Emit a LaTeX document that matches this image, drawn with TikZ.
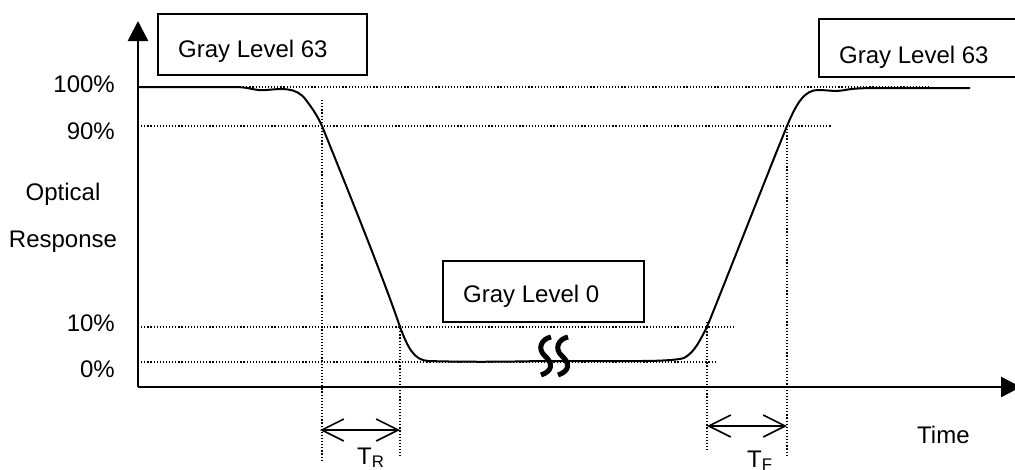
\documentclass[tikz,border=0pt]{standalone}
\usepackage{fontspec}
\setmainfont{Liberation Sans}
\usetikzlibrary{arrows.meta}
\tikzset{
  lbl/.style={inner sep=0pt, font=\fontsize{24}{28}\selectfont},
  boxframe/.style={draw, line width=1.6pt, inner sep=0pt, anchor=north west},
  guide/.style={line width=1.2pt, dash pattern=on 1.2pt off 1.9pt},
  axis/.style={line width=2.4pt, -{Triangle[length=20pt,width=20pt]}},
  resp/.style={line width=2pt, line join=round},
  span/.style={line width=1.6pt, {Straight Barb[length=22pt,width=22pt]}-{Straight Barb[length=22pt,width=22pt]}},
  brk/.style={line width=5pt}
}
\begin{document}
\begin{tikzpicture}[x=1pt,y=-1pt]
\useasboundingbox[fill=white] (0,0) rectangle (1015,469);
% key coordinates
\coordinate (O) at (138,387);
\coordinate (Ytop) at (138,21);
\coordinate (Xend) at (1021,387);
% guide lines
\coordinate (g100a) at (240,87);  \coordinate (g100b) at (930,87);
\coordinate (g90a) at (138,126);  \coordinate (g90b) at (832,126);
\coordinate (g10a) at (138,327);  \coordinate (g10b) at (735,327);
\coordinate (g0a) at (138,362);   \coordinate (g0b) at (715,362);
\coordinate (v1a) at (322,100);   \coordinate (v1b) at (322,462);
\coordinate (v2a) at (400,325);   \coordinate (v2b) at (400,458);
\coordinate (v3a) at (707,322);   \coordinate (v3b) at (707,450);
\coordinate (v4a) at (787,126);   \coordinate (v4b) at (787,455);
\draw[guide] (g100a) -- (g100b);
\draw[guide] (g90a) -- (g90b);
\draw[guide] (g10a) -- (g10b);
\draw[guide] (g0a) -- (g0b);
\draw[guide] (v1a) -- (v1b);
\draw[guide] (v2a) -- (v2b);
\draw[guide] (v3a) -- (v3b);
\draw[guide] (v4a) -- (v4b);
% axes
\draw[axis] (O) -- (Ytop);
\draw[axis] (O) -- (Xend);
% response curve
\draw[resp] (138,87) -- (235,87)
  .. controls (250,87) and (254,91) .. (266,90)
  .. controls (280,89) and (296,86) .. (306,100)
  .. controls (312,108) and (317,115) .. (322,126)
  .. controls (350,195) and (386,285) .. (400,327)
  .. controls (408,348) and (414,360) .. (428,361)
  .. controls (460,362) and (500,362) .. (540,361)
  -- (640,361)
  .. controls (660,361) and (678,360) .. (684,358)
  .. controls (695,352) and (700,340) .. (707,327)
  .. controls (730,270) and (765,180) .. (787,126)
  .. controls (797,102) and (805,90) .. (818,90)
  .. controls (828,90) and (835,92) .. (845,90)
  .. controls (855,88) and (870,88) .. (885,88)
  -- (970,88);
% break symbol
\draw[brk] (551,337) .. controls (541,339) and (537,349) .. (545,356)
  .. controls (553,363) and (553,371) .. (541,375);
\draw[brk] (568,337) .. controls (558,339) and (554,349) .. (562,356)
  .. controls (570,363) and (570,371) .. (558,375);
% spans
\coordinate (tr1) at (320,430); \coordinate (tr2) at (400,430);
\coordinate (tf1) at (707,426); \coordinate (tf2) at (787,426);
\draw[span] (tr1) -- (tr2);
\draw[span] (tf1) -- (tf2);
% boxes
\node[boxframe, minimum width=209pt, minimum height=61pt] (box1) at (157,13) {};
\node[lbl, anchor=base west] (box1t) at (178,57) {Gray Level 63};
\node[boxframe, minimum width=220pt, minimum height=58pt] (box2) at (818,18) {};
\node[lbl, anchor=base west] (box2t) at (839,63) {Gray Level 63};
\node[boxframe, minimum width=201pt, minimum height=61pt] (box3) at (442,260) {};
\node[lbl, anchor=base west] (box3t) at (463,302) {Gray Level 0};
% axis labels
\node[lbl, anchor=base east] (p100) at (115,92) {100\%};
\node[lbl, anchor=base east] (p90) at (115,139) {90\%};
\node[lbl, anchor=base] (opt) at (63,200) {Optical};
\node[lbl, anchor=base] (resp) at (63,247) {Response};
\node[lbl, anchor=base east] (p10) at (115,331) {10\%};
\node[lbl, anchor=base east] (p0) at (115,377) {0\%};
\node[lbl, anchor=base west] (time) at (917,443) {Time};
\node[lbl, anchor=base west] (tr) at (357,464) {T\textsubscript{R}};
\node[lbl, anchor=base west] (tf) at (747,467) {T\textsubscript{F}};
\end{tikzpicture}
\end{document}
